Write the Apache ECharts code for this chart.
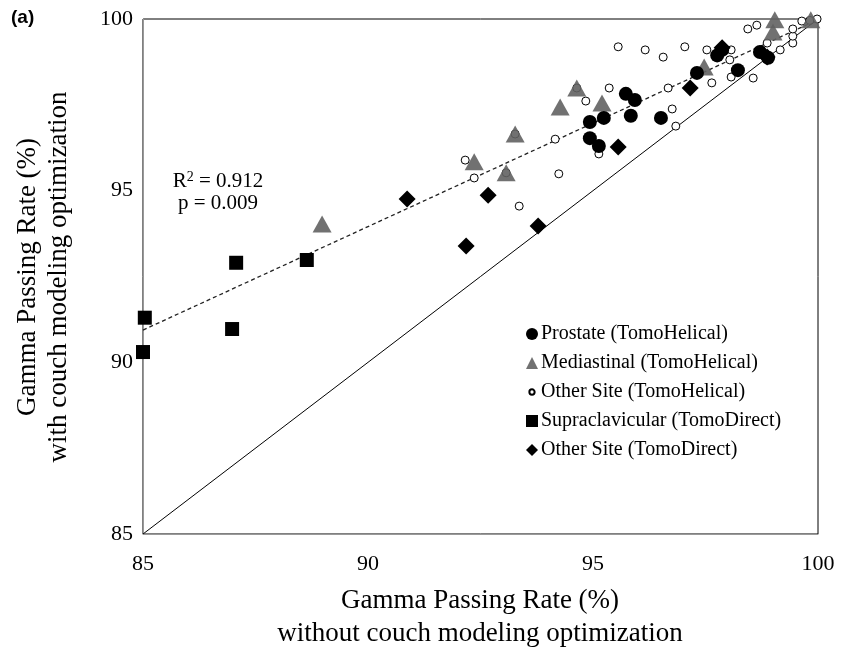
<!DOCTYPE html>
<html>
<head>
<meta charset="utf-8">
<script src="https://cdn.jsdelivr.net/npm/echarts@6/dist/echarts.min.js"></script>
<style>
  html, body { margin: 0; padding: 0; background: #fff; }
  #chart { width: 844px; height: 648px; }
</style>
</head>
<body>
<div id="chart"></div>
<script>
// 各组数据 [without, with]
var prostate = [
    [95.73, 97.82], [95.93, 97.64], [95.84, 97.18], [95.24, 97.12], [94.93, 97.0],
    [94.93, 96.53], [95.13, 96.3], [96.51, 97.12], [97.31, 98.43], [97.76, 98.94],
    [97.87, 99.1], [98.22, 98.51], [98.71, 99.04], [98.89, 98.87]
];
var mediastinal = [
    [88.98, 94.03], [92.36, 95.84], [93.07, 95.52], [93.27, 96.65], [94.27, 97.44],
    [94.64, 97.99], [95.2, 97.55], [97.47, 98.6], [99.0, 99.62], [99.04, 99.98],
    [99.84, 99.98]
];
var otherHelical = [
    [95.56, 99.19], [96.16, 99.1], [96.56, 98.89], [97.04, 99.19], [97.53, 99.1],
    [98.07, 99.1], [98.04, 98.81], [98.07, 98.31], [98.56, 98.28], [99.16, 99.1],
    [99.44, 99.3], [99.44, 99.5], [99.44, 99.71], [98.44, 99.71], [98.64, 99.82],
    [98.87, 99.3], [99.64, 99.94], [99.82, 99.96], [99.98, 100], [95.36, 97.99],
    [94.84, 97.61], [96.67, 97.99], [96.76, 97.38], [96.84, 96.88], [97.64, 98.14],
    [94.16, 96.5], [92.16, 95.89], [92.36, 95.37], [94.24, 95.49], [93.36, 94.55],
    [95.13, 96.07], [94.64, 97.99], [93.27, 96.65], [93.07, 95.52]
];
var supraclavicular = [
    [85.04, 91.3], [85.0, 90.3], [87.07, 92.9], [86.98, 90.97], [88.64, 92.98]
];
var otherDirect = [
    [90.87, 94.76], [92.67, 94.87], [93.78, 93.97], [92.18, 93.39], [95.56, 96.27],
    [97.16, 97.99], [97.87, 99.16], [98.87, 98.89]
];
// 趋势线与对角线端点
var trendLine = [[85, 90.94], [100, 99.98]];
var identityLine = [[85, 85], [100, 100]];

var legendNames = [
    'Prostate (TomoHelical)',
    'Mediastinal (TomoHelical)',
    'Other Site (TomoHelical)',
    'Supraclavicular (TomoDirect)',
    'Other Site (TomoDirect)'
];

var serif = '"Liberation Serif", "Times New Roman", serif';

var chart = echarts.init(document.getElementById('chart'));

var option = {
    animation: false,
    grid: {
        left: 143, top: 19, right: 26, bottom: 114,
        show: true, borderColor: '#000', borderWidth: 1
    },
    xAxis: {
        type: 'value', min: 85, max: 100, interval: 5,
        axisLine: { lineStyle: { color: '#999' } },
        axisTick: { show: false },
        splitLine: { show: false },
        axisLabel: { fontFamily: serif, fontSize: 22, color: '#000', margin: 19 }
    },
    yAxis: {
        type: 'value', min: 85, max: 100, interval: 5,
        axisLine: { show: true, lineStyle: { color: '#999' } },
        axisTick: { show: false },
        splitLine: { show: false },
        axisLabel: { fontFamily: serif, fontSize: 22, color: '#000', margin: 10 }
    },
    legend: {
        orient: 'vertical',
        left: 520, top: 319,
        itemWidth: 12, itemHeight: 12, itemGap: 9,
        textStyle: { fontFamily: serif, fontSize: 20, color: '#000', padding: [0, 0, 0, -2] },
        data: [
            legendNames[0],
            legendNames[1],
            { name: legendNames[2], icon: 'path://M-5,-5M5,5M0,-2.2A2.2,2.2,0,1,1,0,2.2A2.2,2.2,0,1,1,0,-2.2Z' },
            legendNames[3],
            legendNames[4]
        ]
    },
    series: [
        {
            name: legendNames[0], type: 'scatter', data: prostate, z: 4,
            symbol: 'circle', symbolSize: 14,
            itemStyle: { color: '#000', opacity: 1 }
        },
        {
            name: legendNames[1], type: 'scatter', data: mediastinal, z: 3,
            symbol: 'triangle', symbolSize: [19, 17],
            itemStyle: { color: '#626262', opacity: 0.9 }
        },
        {
            name: legendNames[2], type: 'scatter', data: otherHelical, z: 2,
            symbol: 'circle', symbolSize: 8,
            itemStyle: { color: '#fff', borderColor: '#000', borderWidth: 1, opacity: 1 }
        },
        {
            name: legendNames[3], type: 'scatter', data: supraclavicular, z: 5,
            symbol: 'rect', symbolSize: 14,
            itemStyle: { color: '#000', opacity: 1 }
        },
        {
            name: legendNames[4], type: 'scatter', data: otherDirect, z: 6,
            symbol: 'diamond', symbolSize: 17,
            itemStyle: { color: '#000', opacity: 1 }
        },
        {
            name: 'trend', type: 'line', data: trendLine, z: 1,
            symbol: 'none', silent: true,
            lineStyle: { color: '#222', width: 1.3, type: [4, 3] }
        },
        {
            name: 'identity', type: 'line', data: identityLine, z: 1,
            symbol: 'none', silent: true,
            lineStyle: { color: '#000', width: 1 }
        }
    ],
    graphic: [
        {
            type: 'text', left: 11, top: 8,
            style: { text: '(a)', font: 'bold 19px "Liberation Sans", Arial, sans-serif', fill: '#000' }
        },
        {
            type: 'text', x: 218, y: 192,
            style: {
                text: 'R{sup|2} = 0.912\np = 0.009', align: 'center', verticalAlign: 'middle',
                font: '21px ' + serif, fill: '#000', lineHeight: 22,
                rich: { sup: { fontSize: 14, verticalAlign: 'top', padding: [0, 0, 8, 0], fontFamily: serif } }
            }
        },
        {
            type: 'text', x: 480, y: 617,
            style: {
                text: 'Gamma Passing Rate (%)\nwithout couch modeling optimization',
                align: 'center', verticalAlign: 'middle',
                font: '27px ' + serif, fill: '#000', lineHeight: 33
            }
        },
        {
            type: 'text', x: 43, y: 277, rotation: Math.PI / 2,
            style: {
                text: 'Gamma Passing Rate (%)\nwith couch modeling optimization',
                align: 'center', verticalAlign: 'middle',
                font: '27px ' + serif, fill: '#000', lineHeight: 31
            }
        }
    ]
};

chart.setOption(option);
</script>
</body>
</html>
